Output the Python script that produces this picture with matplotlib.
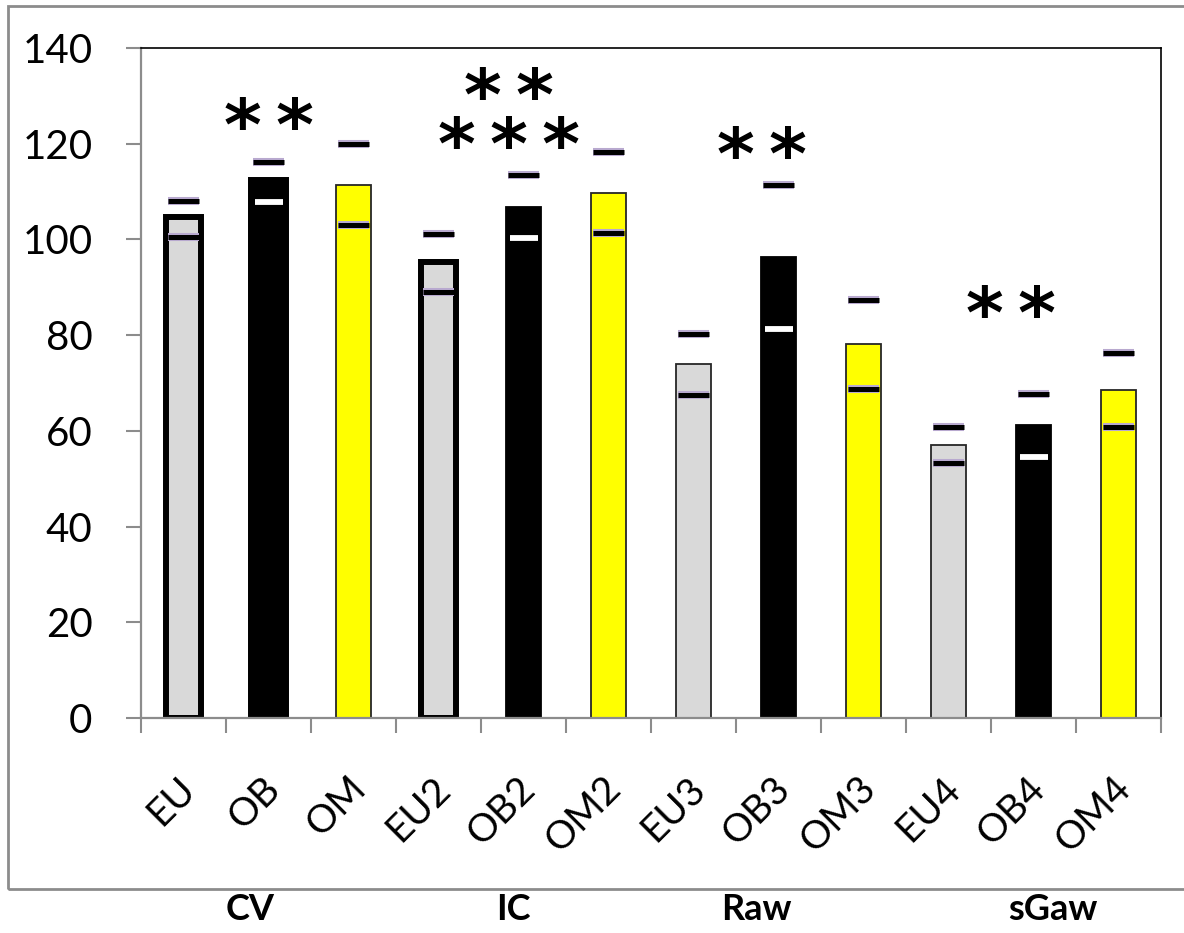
import matplotlib
matplotlib.use("Agg")
import matplotlib.pyplot as plt
import matplotlib.patheffects as pe
from matplotlib.patches import Rectangle
from matplotlib.transforms import ScaledTranslation
import numpy as np

# ---- data ----
categories = ["EU", "OB", "OM", "EU2", "OB2", "OM2", "EU3", "OB3", "OM3", "EU4", "OB4", "OM4"]
means = [104.6, 112.5, 111.4, 95.3, 106.8, 109.7, 74.0, 96.3, 78.1, 57.0, 61.2, 68.5]
upper = [108.0, 116.2, 120.0, 101.1, 113.5, 118.3, 80.2, 111.4, 87.3, 60.8, 67.7, 76.3]
lower = [100.5, 107.8, 103.0, 89.0, 100.3, 101.3, 67.5, 81.3, 68.7, 53.3, 54.5, 60.8]
groups = ["CV", "IC", "Raw", "sGaw"]
sig_categories = ["OB", "OB2", "OB2", "OB3", "OB4"]
sig_labels = ["**", "**", "***", "**", "**"]
sig_heights = [126.0, 132.3, 122.4, 120.1, 86.9]

# ---- style ----
FONT = "Lato"
fill_colors = {"EU": "#d9d9d9", "OB": "#000000", "OM": "#ffff00"}
thick = {0, 1, 3}
sig_xoff = {"OB": 0.0, "OB2": -0.17, "OB3": -0.2, "OB4": -0.26}
group_x_px = [250, 513, 756, 1053]

W, H = 1184, 933
fig = plt.figure(figsize=(W / 100, H / 100), dpi=100)
fig.patch.set_facecolor("white")
ax = fig.add_axes([141 / W, 1 - 718 / H, (1161 - 141) / W, (718 - 48) / H])

x = np.arange(len(categories))
for i, (c, m) in enumerate(zip(categories, means)):
    key = c.rstrip("0123456789")
    lw = 4.3 if i in thick else 1.3
    ec = "#000000" if i in thick or key == "OB" else "#262626"
    ax.bar(i, m, width=0.41, color=fill_colors[key], edgecolor=ec, linewidth=lw, zorder=2)

halo = [pe.Stroke(linewidth=5.8, foreground="#b8a9cf"), pe.Normal()]
for i, c in enumerate(categories):
    key = c.rstrip("0123456789")
    ax.plot([i], [upper[i]], marker="_", ms=22, mew=3.6, color="black",
            linestyle="none", zorder=4, path_effects=halo)
    if key == "OB":
        ax.plot([i], [lower[i]], marker="_", ms=20, mew=4.2, color="white",
                linestyle="none", zorder=4)
    else:
        ax.plot([i], [lower[i]], marker="_", ms=22, mew=3.6, color="black",
                linestyle="none", zorder=4, path_effects=halo)

# significance marks: stacked into one text block per category
sig_shift = ScaledTranslation(0, -16 / 100, fig.dpi_scale_trans)
stacks = {}
for cat, lab, h in zip(sig_categories, sig_labels, sig_heights):
    stacks.setdefault(cat, []).append((h, lab))
for cat, items in stacks.items():
    items = sorted(items, reverse=True)
    text = "\n".join("\u2009".join(lab) for _, lab in items)
    yc = np.mean([h for h, _ in items])
    ax.text(categories.index(cat) + sig_xoff[cat], yc, text, ha="center", va="center",
            fontsize=52, fontweight="bold", fontfamily="DejaVu Sans", color="black",
            linespacing=0.63, zorder=5, transform=ax.transData + sig_shift)

ax.set_xlim(-0.5, len(categories) - 0.5)
ax.set_ylim(0, 140)
ax.set_yticks(np.arange(0, 141, 20))
ax.set_yticklabels([str(v) for v in range(0, 141, 20)], fontsize=29, fontfamily=FONT)
ax.set_xticks(np.arange(-0.5, len(categories), 1.0))
ax.set_xticklabels([])
ax.tick_params(axis="x", which="major", length=11, width=1.5, color="#8c8c8c", direction="out")
ax.tick_params(axis="y", length=11, width=1.5, color="#8c8c8c", direction="out", pad=24)

# rotated category labels, anchored at their right end below each bar
lab_tr = ax.get_xaxis_transform() + ScaledTranslation(6 / 100, -65 / 100, fig.dpi_scale_trans)
for i, c in enumerate(categories):
    ax.text(i, 0, c, transform=lab_tr, rotation=45, rotation_mode="anchor",
            ha="right", va="center", fontsize=28, fontfamily=FONT, clip_on=False)

ax.spines["left"].set_color("#8c8c8c")
ax.spines["left"].set_linewidth(1.6)
ax.spines["bottom"].set_color("#8c8c8c")
ax.spines["bottom"].set_linewidth(1.6)
ax.spines["top"].set_color("black")
ax.spines["top"].set_linewidth(1.2)
ax.spines["right"].set_color("black")
ax.spines["right"].set_linewidth(1.2)

# outer frame
fig.patches.append(Rectangle((8 / W, 1 - 889 / H), 1.2, (889 - 6) / H, transform=fig.transFigure,
                             fill=False, edgecolor="#8c8c8c", linewidth=2.0))

for g, px in zip(groups, group_x_px):
    fig.text(px / W, 1 - 910 / H, g, ha="center", va="center", fontsize=26,
             fontweight="bold", fontfamily=FONT)

fig.savefig("out.png", dpi=100)
